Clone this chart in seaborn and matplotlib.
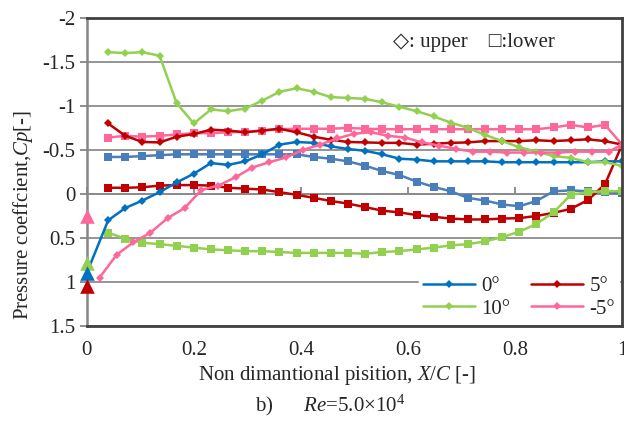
import pandas as pd
import seaborn as sns
from matplotlib import pyplot as plt

# pressure tap positions X/C
x_tap = [0.04, 0.072, 0.104, 0.136, 0.168, 0.2, 0.232, 0.264, 0.296, 0.328, 0.36,
         0.392, 0.424, 0.456, 0.488, 0.52, 0.552, 0.584, 0.616, 0.648, 0.68, 0.712,
         0.744, 0.776, 0.808, 0.84, 0.872, 0.904, 0.936, 0.968, 1.0]
# -5 deg upper surface taps sit a bit further forward
x_tap_m5 = [0.024, 0.056, 0.087, 0.119, 0.151, 0.183, 0.214, 0.246, 0.278, 0.309, 0.341,
            0.373, 0.404, 0.436, 0.468, 0.5, 0.531, 0.563, 0.595, 0.626, 0.658, 0.69,
            0.722, 0.753, 0.785, 0.817, 0.848, 0.88, 0.912, 0.943, 0.975, 1.0]

# leading edge (stagnation) Cp at X/C = 0
x_le = 0.0
cp_le_0 = 0.90
cp_le_5 = 1.05
cp_le_10 = 0.79
cp_le_m5 = 0.25

cp_0_upper = [0.30, 0.16, 0.075, -0.02, -0.13, -0.23, -0.35, -0.33, -0.37, -0.45, -0.56,
              -0.59, -0.58, -0.54, -0.51, -0.49, -0.45, -0.40, -0.39, -0.37, -0.37, -0.37,
              -0.37, -0.36, -0.36, -0.36, -0.36, -0.36, -0.36, -0.37, -0.37]
cp_0_lower = [-0.42, -0.42, -0.43, -0.44, -0.45, -0.45, -0.45, -0.45, -0.45, -0.45, -0.45,
              -0.45, -0.42, -0.40, -0.37, -0.32, -0.26, -0.215, -0.14, -0.08, -0.03, 0.045,
              0.075, 0.12, 0.14, 0.08, -0.03, -0.04, -0.03, -0.02, -0.01]
cp_5_upper = [-0.80, -0.66, -0.59, -0.585, -0.65, -0.68, -0.73, -0.72, -0.70, -0.72, -0.74,
              -0.70, -0.65, -0.615, -0.59, -0.585, -0.58, -0.58, -0.56, -0.57, -0.58, -0.585,
              -0.60, -0.60, -0.60, -0.61, -0.60, -0.61, -0.62, -0.60, -0.56]
cp_5_lower = [-0.07, -0.07, -0.075, -0.095, -0.10, -0.10, -0.095, -0.07, -0.06, -0.05, -0.02,
              0.01, 0.045, 0.08, 0.11, 0.15, 0.19, 0.21, 0.24, 0.26, 0.28, 0.29,
              0.29, 0.28, 0.275, 0.25, 0.215, 0.17, 0.07, -0.11, -0.56]
cp_10_upper = [-1.61, -1.60, -1.61, -1.57, -1.03, -0.80, -0.96, -0.94, -0.97, -1.06, -1.16,
               -1.20, -1.16, -1.10, -1.09, -1.08, -1.04, -0.99, -0.94, -0.88, -0.81, -0.75,
               -0.67, -0.60, -0.53, -0.48, -0.43, -0.41, -0.36, -0.36, -0.32]
cp_10_lower = [0.44, 0.51, 0.555, 0.57, 0.59, 0.61, 0.63, 0.64, 0.65, 0.65, 0.66,
               0.67, 0.67, 0.67, 0.67, 0.68, 0.66, 0.65, 0.63, 0.61, 0.585, 0.57,
               0.54, 0.49, 0.43, 0.34, 0.21, 0.01, -0.02, -0.03, -0.03]
cp_m5_upper = [0.95, 0.69, 0.55, 0.44, 0.275, 0.16, -0.045, -0.095, -0.19, -0.30, -0.36,
               -0.415, -0.50, -0.56, -0.63, -0.685, -0.70, -0.66, -0.64, -0.585, -0.55, -0.51,
               -0.48, -0.48, -0.47, -0.47, -0.47, -0.47, -0.48, -0.48, -0.48, -0.56]
cp_m5_lower = [-0.64, -0.66, -0.65, -0.66, -0.675, -0.69, -0.69, -0.70, -0.705, -0.72, -0.735,
               -0.74, -0.74, -0.74, -0.75, -0.74, -0.735, -0.735, -0.735, -0.735, -0.735, -0.735,
               -0.735, -0.735, -0.735, -0.735, -0.755, -0.785, -0.755, -0.785, -0.56]

legend_labels = ["0°", "5°", "10°", "-5°"]
xtick_vals = [0, 0.2, 0.4, 0.6, 0.8, 1.0]
xtick_labels = ["0", "0.2", "0.4", "0.6", "0.8", "1"]
ytick_vals = [-2, -1.5, -1, -0.5, 0, 0.5, 1, 1.5]
ytick_labels = ["-2", "-1.5", "-1", "-0.5", "0", "0.5", "1", "1.5"]

blue, blue_l = "#0070C0", "#4A7EBB"
red = "#C00000"
green = "#92D050"
pink = "#FF6699"

sns.set_theme(style="white")
plt.rcParams['font.family'] = ['Liberation Serif', 'DejaVu Sans']
plt.rcParams['mathtext.fontset'] = 'custom'
plt.rcParams['mathtext.rm'] = 'Liberation Serif'
plt.rcParams['mathtext.it'] = 'Liberation Serif:italic'
fs = 15

fig = plt.figure(figsize=(6.24, 4.25), dpi=100)
ax = fig.add_axes([0.139, 0.233, 0.858, 0.725])

lw = 1.8
up = dict(marker="D", markersize=4.5, markeredgewidth=0, linewidth=lw, estimator=None, sort=False)
lo = dict(marker="s", markersize=5.5, markeredgewidth=0, linewidth=lw, estimator=None, sort=False)

# lower surfaces (squares)
sns.lineplot(x=x_tap, y=cp_0_lower, color=blue_l, ax=ax, **lo)
sns.lineplot(x=x_tap, y=cp_5_lower, color=red, ax=ax, **lo)
sns.lineplot(x=x_tap, y=cp_10_lower, color=green, ax=ax, **lo)
sns.lineplot(x=x_tap, y=cp_m5_lower, color=pink, ax=ax, **lo)

# upper surfaces (diamonds); the 0 deg one starts from the leading edge point
sns.lineplot(x=[x_le] + x_tap, y=[cp_le_0] + cp_0_upper, color=blue, ax=ax,
             markevery=slice(1, None), label=legend_labels[0], **up)
sns.lineplot(x=x_tap, y=cp_5_upper, color=red, ax=ax, label=legend_labels[1], **up)
sns.lineplot(x=x_tap, y=cp_10_upper, color=green, ax=ax, label=legend_labels[2], **up)
sns.lineplot(x=x_tap_m5, y=cp_m5_upper, color=pink, ax=ax, label=legend_labels[3], **up)

# leading edge triangles
for cp, c in zip([cp_le_m5, cp_le_10, cp_le_0, cp_le_5], [pink, green, blue, red]):
    sns.scatterplot(x=[x_le], y=[cp], color=c, marker="^", s=110, linewidth=0,
                    ax=ax, clip_on=False, zorder=5)

ax.set_xlim(0, 1)
ax.set_ylim(1.5, -2)
ax.set_yticks(ytick_vals)
ax.set_yticklabels(ytick_labels, fontsize=fs)
ax.set_xticks(xtick_vals)
ax.set_xticklabels(xtick_labels, fontsize=fs)
ax.tick_params(axis="x", length=0, pad=11)
ax.tick_params(axis="y", direction="out", length=5, width=1.3, color="#868686", pad=3, left=True)
ax.yaxis.grid(True, color="#8c8c8c", linewidth=1.3)
ax.set_axisbelow(True)

for side in ["top", "right", "bottom"]:
    ax.spines[side].set_color("#404040")
    ax.spines[side].set_linewidth(2)
ax.spines["left"].set_color("#868686")
ax.spines["left"].set_linewidth(1.8)

# horizontal axis line crosses at Cp = 0 with its own ticks
y_lo, y_hi = ax.get_ylim()
sec = ax.secondary_xaxis((0 - y_lo) / (y_hi - y_lo))
sec.set_xticks(xtick_vals)
sec.tick_params(direction="in", length=5, width=1.3, color="#868686", labelbottom=False)
sec.spines["bottom"].set_color("#868686")
sec.spines["bottom"].set_linewidth(1.3)

ax.set_xlabel("Non dimantional pisition, $\\mathit{X/C}$ [-]", fontsize=fs)
ax.xaxis.set_label_coords(0.467, -0.125)
ax.set_ylabel("Pressure coeffcient,$\\mathit{Cp}$[-]", fontsize=fs)
ax.yaxis.set_label_coords(-0.097, 0.36)

handles, labels = ax.get_legend_handles_labels()
order = [0, 2, 1, 3]
leg = ax.legend([handles[i] for i in order], [labels[i] for i in order], ncol=2,
                loc="lower right", fontsize=fs, frameon=True, fancybox=False,
                facecolor="white", edgecolor="white", framealpha=1,
                handlelength=2.5, columnspacing=1.0, handletextpad=0.3,
                borderpad=0.2, labelspacing=0.15, borderaxespad=0.15)
for h in leg.legend_handles:
    h.set_markersize(4)

ax.text(0.723, 0.919, "◇: upper    □:lower", transform=ax.transAxes, fontsize=fs,
        ha="center", va="center", family=["Liberation Serif", "DejaVu Sans"])

fig.text(255 / 624, 1 - 405 / 425, "b)      $\\mathit{Re}$=5.0×10$^4$", fontsize=fs,
         ha="left", va="center")

fig.savefig("out.png", dpi=100)
